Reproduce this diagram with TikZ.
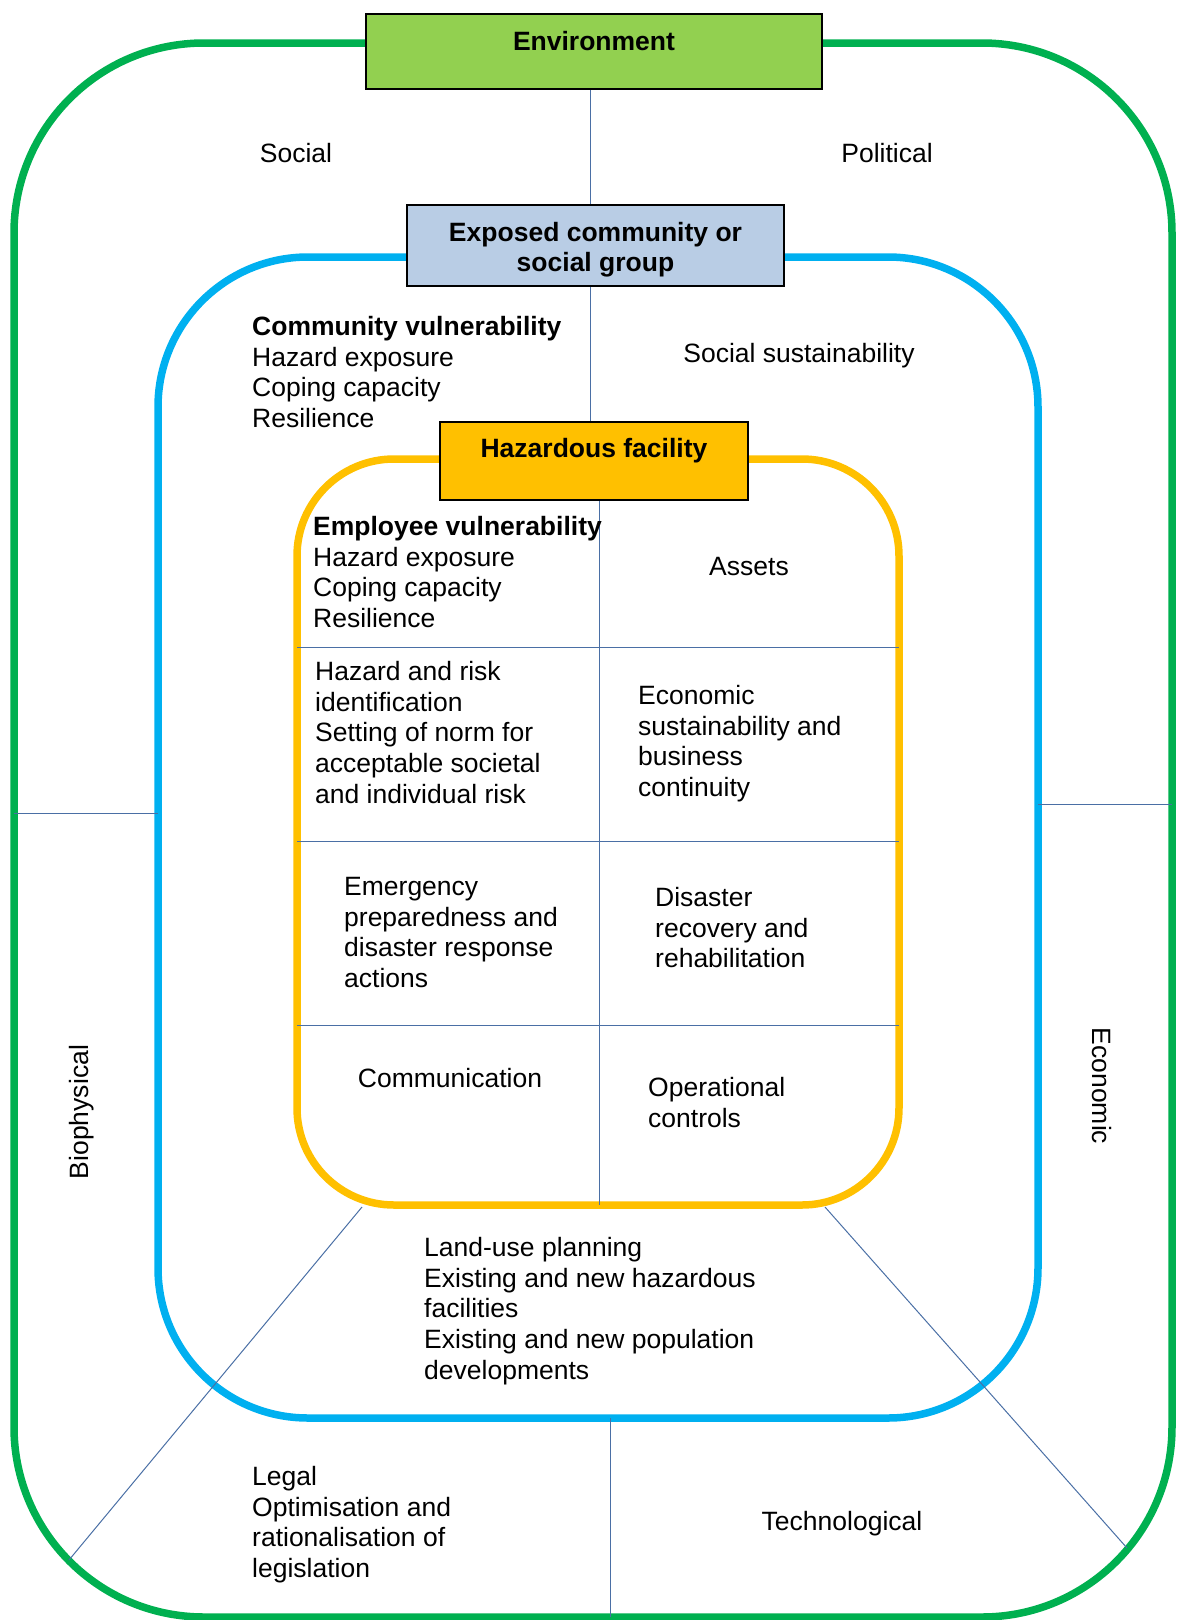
\documentclass[tikz,border=0pt]{standalone}
\usepackage{fontspec}
\setmainfont{Liberation Sans}
\usetikzlibrary{positioning}
\definecolor{envgreen}{HTML}{00B050}
\definecolor{comblue}{HTML}{00B0F0}
\definecolor{facyellow}{HTML}{FFC000}
\definecolor{envfill}{HTML}{92D050}
\definecolor{comfill}{HTML}{B9CDE5}
\definecolor{divline}{HTML}{4A6FA5}

\begin{document}
\begin{tikzpicture}[x=1pt,y=-1pt,
  every node/.style={font=\fontsize{26.5}{30.7}\selectfont,inner sep=0pt},
  frame/.style={line width=7.5pt},
  divider/.style={draw=divline,line width=1pt},
  head/.style={draw=black,line width=2pt,font=\fontsize{26.5}{30.7}\selectfont\bfseries,align=center},
  txt/.style={align=left,anchor=north west}]
\useasboundingbox (0,0) rectangle (1176,1620);

\draw[frame,envgreen,rounded corners=190pt] (14,43) rectangle (1172,1617);
\draw[frame,comblue,rounded corners=150pt] (158,257) rectangle (1038,1418);
\draw[frame,facyellow,rounded corners=97pt] (297,459) rectangle (899,1205);

\node[head,fill=envfill,minimum width=456pt,minimum height=75pt,text height=19pt,text depth=21pt] (env) at (594,51.5) {Environment};
\node[head,fill=comfill,minimum width=377pt,minimum height=81pt] (exp) at (595.5,245.5) {\rule{0pt}{27.5pt}Exposed community or\\social group};
\node[head,fill=facyellow,minimum width=308pt,minimum height=78pt,text height=19pt,text depth=26pt] (haz) at (594,461) {Hazardous facility};

\draw[divider] ([xshift=-4pt]env.south) -- ([xshift=-5.5pt]exp.north);
\draw[divider] ([xshift=-5.5pt]exp.south) -- ([xshift=-4pt]haz.north);
\coordinate (mid0) at (599.5,501); \coordinate (mid1) at (599.5,1205);
\draw[divider] (mid0) -- (mid1);
\foreach \y [count=\i] in {647,841,1025} {
  \coordinate (row\i w) at (297,\y); \coordinate (row\i e) at (899,\y);
  \draw[divider] (row\i w) -- (row\i e);
}
\coordinate (bio0) at (14,813); \coordinate (bio1) at (158,813);
\coordinate (eco0) at (1038,804); \coordinate (eco1) at (1172,804);
\coordinate (tec0) at (610.5,1418); \coordinate (tec1) at (610.5,1617);
\coordinate (leg0) at (362,1207); \coordinate (leg1) at (69,1560);
\coordinate (lnd0) at (825,1207); \coordinate (lnd1) at (1127,1548);
\draw[divider] (bio0) -- (bio1);
\draw[divider] (eco0) -- (eco1);
\draw[divider] (tec0) -- (tec1);
\draw[divider] (leg0) -- (leg1);
\draw[divider] (lnd0) -- (lnd1);

\node (soc) at (296,153) {Social};
\node (pol) at (887,153) {Political};
\node[txt] (comv) at (252,316) {\textbf{Community vulnerability}\\Hazard exposure\\Coping capacity\\Resilience};
\node (socs) at (799,356) {Social sustainability};
\node[txt] (empv) at (313,516) {\textbf{Employee vulnerability}\\Hazard exposure\\Coping capacity\\Resilience};
\node (ast) at (749,567) {Assets};
\node[txt] (risk) at (315,661) {Hazard and risk\\identification\\Setting of norm for\\acceptable societal\\and individual risk};
\node[txt] (ecos) at (638,685) {Economic\\sustainability and\\business\\continuity};
\node[txt] (emer) at (344,877) {Emergency\\preparedness and\\disaster response\\actions};
\node[txt] (reco) at (655,887) {Disaster\\recovery and\\rehabilitation};
\node (comm) at (450,1078) {Communication};
\node[txt] (oper) at (648,1077) {Operational\\controls};
\node[txt] (land) at (424,1237) {Land-use planning\\Existing and new hazardous\\facilities\\Existing and new population\\developments};
\node[txt] (legal) at (252,1466) {Legal\\Optimisation and\\rationalisation of\\legislation};
\node (tech) at (842,1524) {Technological};
\node[rotate=90] (bio) at (82,1112) {Biophysical};
\node[rotate=-90] (eco) at (1102,1086) {Economic};
\end{tikzpicture}
\end{document}
